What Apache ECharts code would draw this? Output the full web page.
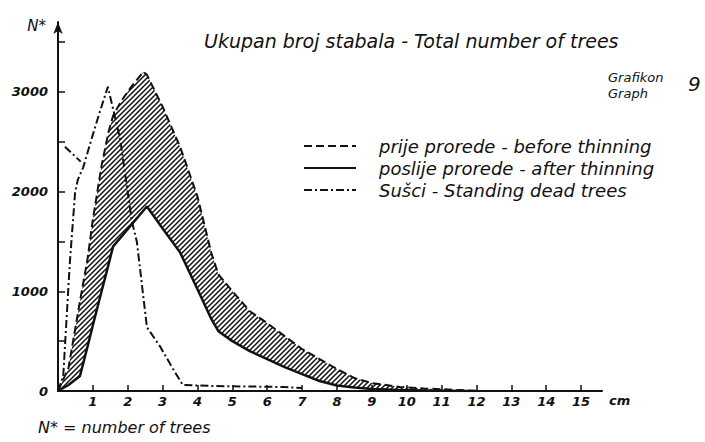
<!DOCTYPE html>
<html>
<head>
<meta charset="utf-8">
<script src="https://cdn.jsdelivr.net/npm/echarts@6/dist/echarts.min.js"></script>
<style>
html, body { margin: 0; padding: 0; background: #fff; }
#chart { width: 705px; height: 442px; }
</style>
</head>
<body>
<div id="chart"></div>
<script>
// diameter (cm) where both total-number curves are read
var diam = [0, 0.3, 0.63, 0.85, 1.0, 1.25, 1.45, 1.58, 1.8, 2.1, 2.45, 2.55, 3.0, 3.5, 4.0, 4.4, 4.6, 5.0, 5.5, 6.0, 6.5, 7.0, 7.5, 8.0, 8.5, 9.0, 9.8, 10.5, 11.5, 12];
// prije prorede - before thinning
var beforeThin = [0, 230, 900, 1330, 1720, 2260, 2600, 2760, 2900, 3050, 3200, 3170, 2850, 2450, 1950, 1380, 1170, 1000, 800, 680, 550, 420, 320, 220, 130, 80, 40, 25, 10, 0];
// poslije prorede - after thinning
var afterThin = [0, 60, 150, 450, 660, 1000, 1270, 1450, 1540, 1665, 1810, 1850, 1630, 1390, 1020, 720, 600, 500, 400, 320, 240, 170, 100, 55, 35, 20, 10, 5, 0, 0];
// susci - standing dead trees
var deadX = [0, 0.15, 0.34, 0.49, 0.57, 0.72, 1.05, 1.2, 1.43, 1.78, 2.12, 2.26, 2.55, 2.92, 3.3, 3.58, 4.5, 5.5, 6.5, 7.0];
var deadN = [0, 150, 1290, 1990, 2120, 2240, 2630, 2800, 3050, 2530, 1700, 1500, 640, 450, 220, 60, 50, 45, 40, 30];
// short stroke off the axis near 2500
var deadStubX = [0.2, 0.65];
var deadStubN = [2450, 2300];

var xTicks = [1, 2, 3, 4, 5, 6, 7, 8, 9, 10, 11, 12, 13, 14, 15];
var yTicks = [500, 1000, 1500, 2000, 2500, 3000, 3500];
var yLabels = [0, 1000, 2000, 3000];

var names = ['prije prorede - before thinning', 'poslije prorede - after thinning', 'Sušci - Standing dead trees'];
var font = 'DejaVu Sans';
var ink = '#111';

function pairs(xs, ys) {
  return xs.map(function (x, i) { return [x, ys[i]]; });
}

// hatch for the area between the two curves
function hatch() {
  var c = document.createElement('canvas');
  c.width = 5; c.height = 5;
  var g = c.getContext('2d');
  g.strokeStyle = ink;
  g.lineWidth = 1.5;
  g.beginPath();
  g.moveTo(-1, 6); g.lineTo(6, -1);
  g.moveTo(-3.5, 3.5); g.lineTo(3.5, -3.5);
  g.moveTo(1.5, 8.5); g.lineTo(8.5, 1.5);
  g.stroke();
  return c;
}
var hatchFill = { image: hatch(), repeat: 'repeat' };

var chart = echarts.init(document.getElementById('chart'), null, { renderer: 'svg' });
chart.setOption({
  backgroundColor: '#fff',
  animation: false,
  title: {
    text: 'Ukupan broj stabala - Total number of trees',
    left: 204, top: 31, padding: 0,
    textStyle: { fontFamily: font, fontStyle: 'italic', fontWeight: 'normal', fontSize: 19, color: ink }
  },
  legend: {
    data: names,
    orient: 'vertical',
    left: 303, top: 137, padding: 0,
    itemWidth: 52, itemHeight: 14, itemGap: 4,
    itemStyle: { opacity: 0 },
    textStyle: { fontFamily: font, fontStyle: 'italic', fontSize: 18, color: ink, padding: [0, 0, 0, 18] }
  },
  graphic: [
    { type: 'text', left: 608, top: 71, style: { text: 'Grafikon', font: 'italic 13px "DejaVu Sans"', fill: ink } },
    { type: 'text', left: 608, top: 87, style: { text: 'Graph', font: 'italic 13px "DejaVu Sans"', fill: ink } },
    { type: 'text', left: 688, top: 74, style: { text: '9', font: 'italic 20px "DejaVu Sans"', fill: ink } },
    { type: 'text', left: 38, top: 419, style: { text: 'N* = number of trees', font: 'italic 16px "DejaVu Sans"', fill: ink } }
  ],
  grid: { left: 58, right: 103, top: 22, bottom: 51 },
  xAxis: {
    type: 'value', min: 0, max: 15.6, z: 10,
    name: 'cm', nameLocation: 'end', nameGap: 7,
    nameTextStyle: { fontFamily: font, fontStyle: 'italic', fontWeight: 'bold', fontSize: 13, color: ink, verticalAlign: 'top', padding: [3, 0, 0, 0] },
    splitLine: { show: false },
    axisLine: { lineStyle: { color: ink, width: 2 } },
    axisTick: { inside: true, length: 6, customValues: xTicks, lineStyle: { color: ink, width: 1.5 } },
    axisLabel: { customValues: xTicks, margin: 4, fontFamily: font, fontStyle: 'italic', fontWeight: 'bold', fontSize: 13, color: ink }
  },
  yAxis: {
    type: 'value', min: 0, max: 3700, z: 10,
    name: 'N*', nameLocation: 'end', nameGap: -4,
    nameTextStyle: { fontFamily: font, fontStyle: 'italic', fontSize: 15, color: ink, align: 'right', verticalAlign: 'middle', padding: [0, 12, 0, 0] },
    splitLine: { show: false },
    axisLine: { show: true, symbol: ['none', 'arrow'], symbolSize: [7, 12], lineStyle: { color: ink, width: 2 } },
    axisTick: { show: true, inside: true, length: 7, customValues: yTicks, lineStyle: { color: ink, width: 1.5 } },
    axisLabel: {
      customValues: yLabels, margin: 10, fontFamily: font, fontStyle: 'italic', fontWeight: 'bold', fontSize: 13, color: ink,
      formatter: function (v) { return String(v); }
    }
  },
  series: [
    {
      // hatched band between before and after thinning
      name: 'band', type: 'custom', z: 2, silent: true,
      data: [[0, 0]],
      renderItem: function (params, api) {
        var pts = [];
        for (var i = 0; i < diam.length; i++) pts.push(api.coord([diam[i], beforeThin[i]]));
        for (var j = diam.length - 1; j >= 0; j--) pts.push(api.coord([diam[j], afterThin[j]]));
        return { type: 'polygon', shape: { points: pts }, style: { fill: hatchFill, stroke: null } };
      }
    },
    {
      name: names[0], type: 'line', symbol: 'none', z: 3,
      data: pairs(diam, beforeThin),
      lineStyle: { color: ink, width: 2, type: [8, 4] },
      itemStyle: { color: ink }
    },
    {
      name: names[1], type: 'line', symbol: 'none', z: 4,
      data: pairs(diam, afterThin),
      lineStyle: { color: ink, width: 2.5, type: 'solid' },
      itemStyle: { color: ink }
    },
    {
      name: names[2], type: 'line', symbol: 'none', z: 3,
      data: pairs(deadX, deadN),
      lineStyle: { color: ink, width: 2, type: [8, 3, 2, 3] },
      itemStyle: { color: ink }
    },
    {
      name: names[2], type: 'line', symbol: 'none', z: 3,
      data: pairs(deadStubX, deadStubN),
      lineStyle: { color: ink, width: 2, type: [8, 3, 2, 3] },
      itemStyle: { color: ink }
    }
  ]
});
</script>
</body>
</html>
